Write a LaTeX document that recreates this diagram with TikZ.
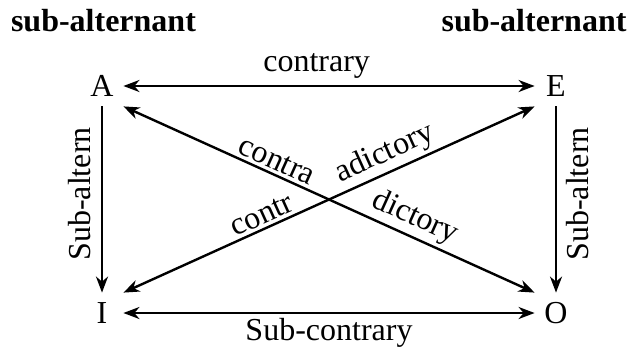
\documentclass[tikz,border=0pt]{standalone}
\usepackage{fontspec}
\setmainfont{Liberation Serif}
\usetikzlibrary{arrows.meta}

\begin{document}
\begin{tikzpicture}[x=0.5pt,y=0.5pt,
  every node/.style={font=\fontsize{16pt}{19pt}\selectfont},
  corner/.style={minimum width=21pt,minimum height=20pt,inner sep=0pt},
  rel/.style={line width=1.2pt},
  lbl/.style={inner sep=3pt},
  diag/.style={pos=#1, sloped, above, inner sep=1.5pt},
  >={Stealth[length=8pt,width=6pt,inset=2.5pt]}]
\useasboundingbox (0,0) rectangle (630,349);
% Headers
\node[font=\fontsize{16pt}{19pt}\selectfont\bfseries, anchor=base] (subL) at (103.5,317) {sub-alternant};
\node[font=\fontsize{16pt}{19pt}\selectfont\bfseries, anchor=base] (subR) at (534,317) {sub-alternant};
% Corners of the square
\node[corner] (A) at (102,263) {A};
\node[corner] (E) at (556,263) {E};
\node[corner] (I) at (102,36) {I};
\node[corner] (O) at (556,36) {O};
% Contrary and Sub-contrary
\draw[rel, <->] (A) -- node[lbl, pos=0.47, above] {contrary} (E);
\draw[rel, <->] (I) -- node[lbl, midway, below, inner sep=2pt] {Sub-contrary} (O);
% Sub-altern edges
\draw[rel, ->] (A) -- node[pos=0.47, rotate=90, anchor=south, inner sep=5pt] {Sub-altern} (I);
\draw[rel, ->] (E) -- node[pos=0.47, rotate=90, anchor=north, inner sep=4.5pt] {Sub-altern} (O);
% Contradictory diagonals
\draw[rel, <->] (A.south east) -- node[diag=0.36] {contra} node[diag=0.69] {dictory} (O.north west);
\draw[rel, <->] (I.north east) -- node[diag=0.35] {contr} node[diag=0.655] {adictory} (E.south west);
\end{tikzpicture}
\end{document}
